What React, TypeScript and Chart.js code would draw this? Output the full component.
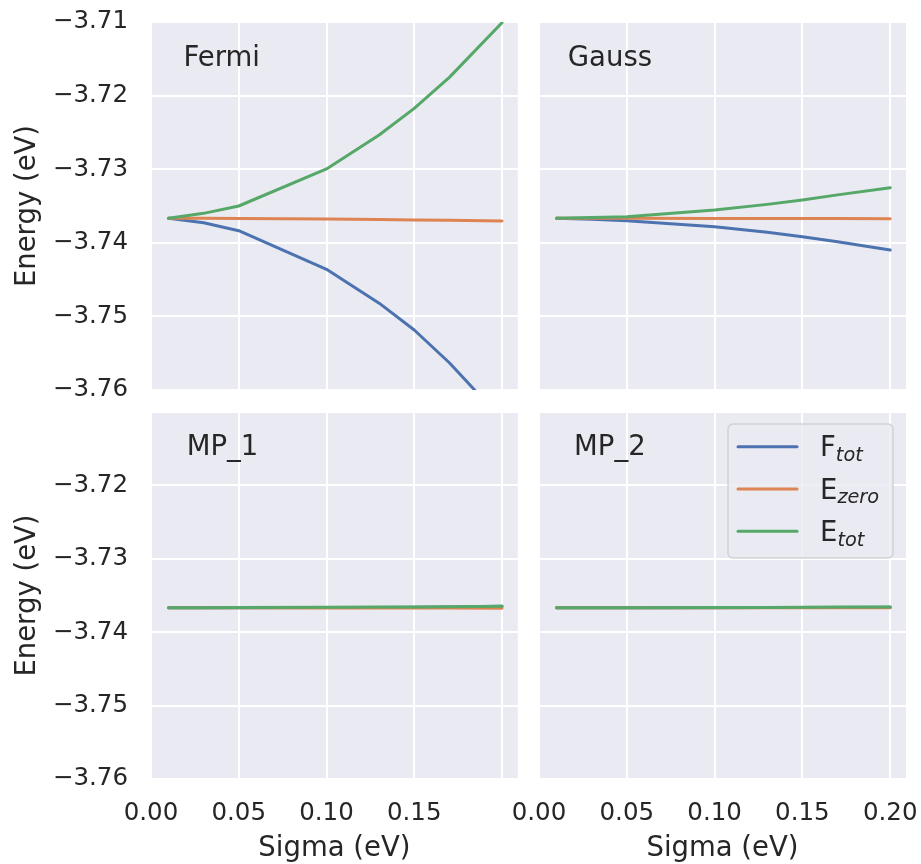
import React, { useEffect, useRef } from "react";
import { Chart, registerables } from "chart.js";

Chart.register(...registerables);

// ---------- data ----------
const SIGMA = [0.01, 0.03, 0.05, 0.1, 0.13, 0.15, 0.17, 0.2];

const FERMI_F_TOT = [-3.73667, -3.73727, -3.73836, -3.7436, -3.7482, -3.75185, -3.7563, -3.764];
const FERMI_E_ZERO = [-3.73667, -3.73668, -3.7367, -3.73678, -3.73685, -3.7369, -3.73695, -3.73704];
const FERMI_E_TOT = [-3.73667, -3.736, -3.735, -3.72997, -3.72535, -3.72173, -3.71752, -3.7101];

const GAUSS_F_TOT = [-3.73667, -3.7368, -3.737, -3.73781, -3.73858, -3.73917, -3.73987, -3.74098];
const GAUSS_E_ZERO = [-3.73667, -3.73667, -3.73668, -3.73669, -3.7367, -3.7367, -3.73671, -3.73672];
const GAUSS_E_TOT = [-3.73667, -3.73657, -3.73645, -3.73554, -3.73478, -3.73418, -3.73349, -3.73251];

const MP1_F_TOT = [-3.73667, -3.73667, -3.73666, -3.73664, -3.73662, -3.7366, -3.73656, -3.73648];
const MP1_E_ZERO = [-3.73667, -3.73667, -3.73668, -3.73669, -3.7367, -3.73671, -3.73672, -3.73675];
const MP1_E_TOT = [-3.73667, -3.73666, -3.73665, -3.73661, -3.73658, -3.73655, -3.73652, -3.73645];

const MP2_F_TOT = [-3.73667, -3.73667, -3.73667, -3.73666, -3.73665, -3.73664, -3.73663, -3.73661];
const MP2_E_ZERO = [-3.73667, -3.73667, -3.73667, -3.73667, -3.73668, -3.73668, -3.73668, -3.73668];
const MP2_E_TOT = [-3.73667, -3.73667, -3.73666, -3.73664, -3.73662, -3.7366, -3.73658, -3.73655];

const X_TICKS = [0, 0.05, 0.1, 0.15, 0.2];
const X_TICK_LABELS = ["0.00", "0.05", "0.10", "0.15", "0.20"];
const Y_TICKS = [-3.76, -3.75, -3.74, -3.73, -3.72, -3.71];
const Y_TICK_LABELS = ["\u22123.76", "\u22123.75", "\u22123.74", "\u22123.73", "\u22123.72", "\u22123.71"];

const SERIES_MAIN = ["F", "E", "E"];
const SERIES_SUB = ["tot", "zero", "tot"];
const PANEL_NAMES = ["Fermi", "Gauss", "MP_1", "MP_2"];
const ANNOT_X = [0.0185, 0.0164, 0.0204, 0.02];
const ANNOT_Y = [-3.716, -3.716, -3.7158, -3.7158];

const X_TITLE = "Sigma (eV)";
const Y_TITLE = "Energy (eV)";

// ---------- style ----------
const W = 921;
const H = 864;
const COLORS = ["#4C72B0", "#DD8452", "#55A868"];
const TEXT = "#262626";
const FACE = "#EAEAF2";
const FONT = "'DejaVu Sans', 'Liberation Sans', sans-serif";

type Panel = {
  series: number[][];
  area: { l: number; t: number; r: number; b: number };
  showX: boolean;
  showY: boolean;
  hiddenX: number[];
  hiddenY: number[];
  legend: boolean;
};

const PANELS: Panel[] = [
  { series: [FERMI_F_TOT, FERMI_E_ZERO, FERMI_E_TOT], area: { l: 151, t: 22, r: 517.8, b: 390 }, showX: false, showY: true, hiddenX: [], hiddenY: [], legend: false },
  { series: [GAUSS_F_TOT, GAUSS_E_ZERO, GAUSS_E_TOT], area: { l: 539, t: 22, r: 906, b: 390 }, showX: false, showY: false, hiddenX: [], hiddenY: [], legend: false },
  { series: [MP1_F_TOT, MP1_E_ZERO, MP1_E_TOT], area: { l: 151, t: 412, r: 517.8, b: 779 }, showX: true, showY: true, hiddenX: [4], hiddenY: [5], legend: false },
  { series: [MP2_F_TOT, MP2_E_ZERO, MP2_E_TOT], area: { l: 539, t: 412, r: 906, b: 779 }, showX: true, showY: false, hiddenX: [], hiddenY: [], legend: true },
];

const PAD_LEFT = 13.75;
const PAD_BOTTOM = 1.75;

function makeChart(canvas: HTMLCanvasElement, p: Panel, idx: number) {
  const datasets = p.series.map((vals, i) => ({
    label: SERIES_MAIN[i] + "_" + SERIES_SUB[i],
    data: SIGMA.map((x, j) => ({ x, y: vals[j] })),
    borderColor: COLORS[i],
    backgroundColor: COLORS[i],
    borderWidth: 3,
    pointRadius: 0,
    pointHoverRadius: 0,
    tension: 0,
    fill: false,
    borderCapStyle: "round",
    borderJoinStyle: "round",
    order: 2 - i,
    clip: 0,
  }));

  const bgPlugin = {
    id: "bg" + idx,
    beforeDraw(chart: any) {
      const { ctx, chartArea: ca } = chart;
      ctx.save();
      ctx.fillStyle = FACE;
      ctx.fillRect(ca.left, ca.top, ca.right - ca.left, ca.bottom - ca.top);
      ctx.restore();
    },
  };

  const annotPlugin = {
    id: "annot" + idx,
    afterDatasetsDraw(chart: any) {
      const { ctx } = chart;
      const xs = chart.scales.x;
      const ys = chart.scales.y;
      ctx.save();
      ctx.fillStyle = TEXT;
      ctx.font = `27.5px ${FONT}`;
      ctx.textAlign = "left";
      ctx.textBaseline = "alphabetic";
      ctx.fillText(PANEL_NAMES[idx], xs.getPixelForValue(ANNOT_X[idx]), ys.getPixelForValue(ANNOT_Y[idx]));
      ctx.restore();
    },
  };

  const legendPlugin = {
    id: "legend" + idx,
    afterDraw(chart: any) {
      if (!p.legend) return;
      const { ctx, chartArea: ca } = chart;
      const bw = 165;
      const bh = 134;
      const bx = ca.right - 13 - bw;
      const by = ca.top + 12;
      ctx.save();
      ctx.beginPath();
      ctx.roundRect(bx, by, bw, bh, 5);
      ctx.fillStyle = "rgba(234,234,242,0.8)";
      ctx.fill();
      ctx.lineWidth = 1.5;
      ctx.strokeStyle = "rgba(204,204,204,0.85)";
      ctx.stroke();
      for (let i = 0; i < 3; i++) {
        const cy = by + 22.7 + i * 42.3;
        ctx.beginPath();
        ctx.moveTo(bx + 10, cy);
        ctx.lineTo(bx + 69, cy);
        ctx.strokeStyle = COLORS[i];
        ctx.lineWidth = 3;
        ctx.lineCap = "round";
        ctx.stroke();
        const tx = bx + 92;
        const base = cy + 9.5;
        ctx.fillStyle = TEXT;
        ctx.textAlign = "left";
        ctx.textBaseline = "alphabetic";
        ctx.font = `27.5px ${FONT}`;
        ctx.fillText(SERIES_MAIN[i], tx, base);
        const mw = ctx.measureText(SERIES_MAIN[i]).width;
        ctx.font = `oblique 19.3px ${FONT}`;
        ctx.fillText(SERIES_SUB[i], tx + mw, base + 4.7);
      }
      ctx.restore();
    },
  };

  const xHeight = H - PAD_BOTTOM - p.area.b;
  const yWidth = p.area.l - PAD_LEFT;

  return new Chart(canvas, {
    type: "line",
    data: { datasets } as any,
    plugins: [bgPlugin, annotPlugin, legendPlugin],
    options: {
      animation: false,
      responsive: false,
      events: [],
      layout: {
        autoPadding: false,
        padding: {
          left: p.showY ? PAD_LEFT : p.area.l,
          top: p.area.t,
          right: W - p.area.r,
          bottom: p.showX ? PAD_BOTTOM : H - p.area.b,
        },
      },
      plugins: {
        legend: { display: false },
        tooltip: { enabled: false },
        title: { display: false },
      },
      scales: {
        x: {
          type: "linear",
          min: 0,
          max: 0.209,
          afterBuildTicks: (s: any) => {
            s.ticks = X_TICKS.map((v) => ({ value: v }));
          },
          afterFit: (s: any) => {
            s.height = p.showX ? xHeight : 0;
            s.paddingLeft = 0;
            s.paddingRight = 0;
            s.paddingTop = 0;
            s.paddingBottom = 0;
          },
          grid: { color: "#ffffff", lineWidth: 2, drawTicks: false },
          border: { display: false },
          ticks: {
            display: p.showX,
            padding: 20,
            autoSkip: false,
            maxRotation: 0,
            color: TEXT,
            font: { family: FONT, size: 24.5 },
            callback: (_v: any, i: number) => (p.hiddenX.includes(i) ? "" : X_TICK_LABELS[i]),
          },
          title: {
            display: p.showX,
            text: X_TITLE,
            color: TEXT,
            padding: 0,
            font: { family: FONT, size: 27.5, lineHeight: 1 },
          },
        },
        y: {
          type: "linear",
          min: -3.76,
          max: -3.71,
          afterBuildTicks: (s: any) => {
            s.ticks = Y_TICKS.map((v) => ({ value: v }));
          },
          afterFit: (s: any) => {
            s.width = p.showY ? yWidth : 0;
            s.paddingLeft = 0;
            s.paddingRight = 0;
            s.paddingTop = 0;
            s.paddingBottom = 0;
          },
          grid: { color: "#ffffff", lineWidth: 2, drawTicks: false },
          border: { display: false },
          ticks: {
            display: p.showY,
            padding: 23,
            autoSkip: false,
            color: TEXT,
            font: { family: FONT, size: 24.5 },
            callback: (_v: any, i: number) => (p.hiddenY.includes(i) ? "" : Y_TICK_LABELS[i]),
          },
          title: {
            display: p.showY,
            text: Y_TITLE,
            color: TEXT,
            padding: 0,
            font: { family: FONT, size: 27.5, lineHeight: 1 },
          },
        },
      },
    } as any,
  });
}

export default function App() {
  const refs = [useRef<HTMLCanvasElement>(null), useRef<HTMLCanvasElement>(null), useRef<HTMLCanvasElement>(null), useRef<HTMLCanvasElement>(null)];

  useEffect(() => {
    document.body.style.margin = "0";
    const charts = PANELS.map((p, i) => makeChart(refs[i].current as HTMLCanvasElement, p, i));
    return () => charts.forEach((c) => c.destroy());
  }, []);

  return (
    <div style={{ position: "absolute", left: 0, top: 0, width: W, height: H, background: "#ffffff", overflow: "hidden" }}>
      {refs.map((r, i) => (
        <canvas key={i} ref={r} width={W} height={H} style={{ position: "absolute", left: 0, top: 0, width: W, height: H }} />
      ))}
    </div>
  );
}
